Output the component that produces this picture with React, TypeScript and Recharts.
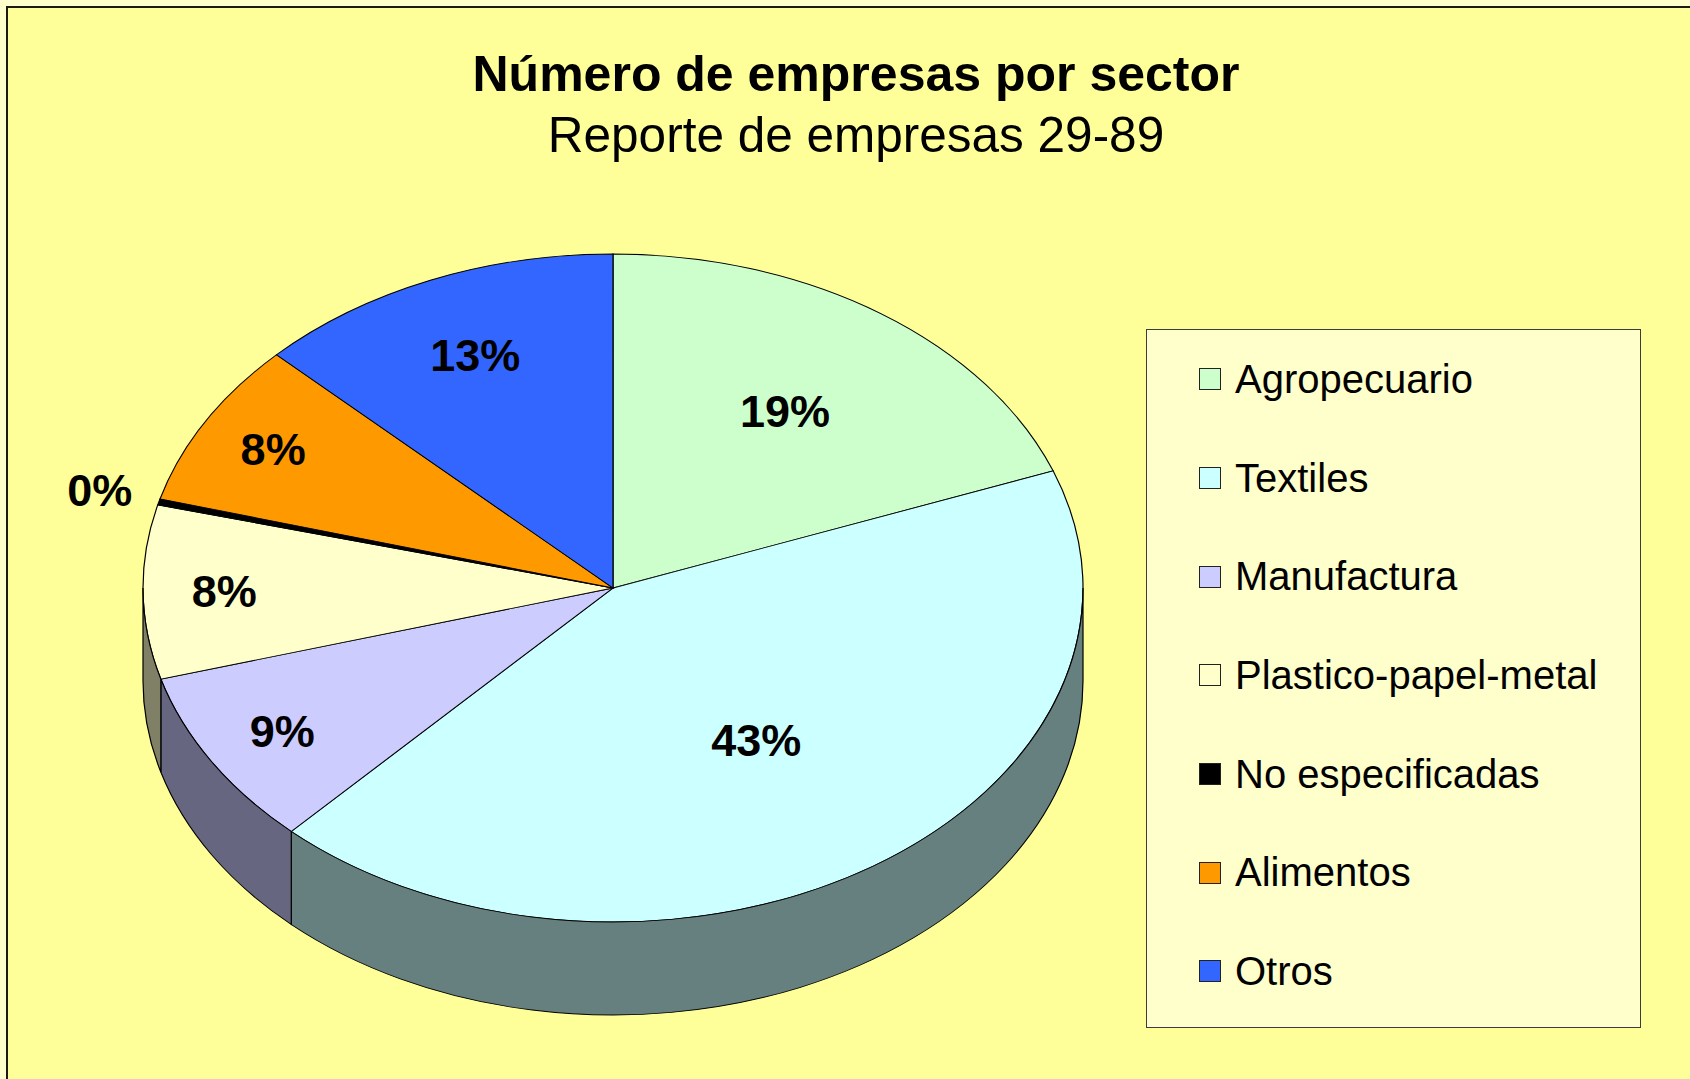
import React from "react";
import { PieChart, Pie, Cell, Legend } from "recharts";

// sector shares (percent of companies)
const sectors = [
  "Agropecuario",
  "Textiles",
  "Manufactura",
  "Plastico-papel-metal",
  "No especificadas",
  "Alimentos",
  "Otros",
];
const shares = [19.3, 42.7, 8.6, 8.4, 0.3, 8.0, 12.7];
const topColors = ["#CCFFCC", "#CCFFFF", "#CCCCFF", "#FFFFCC", "#000000", "#FF9900", "#3366FF"];
const sideColors = ["#668066", "#668080", "#666680", "#808066", "#000000", "#804D00", "#1A3380"];

const data = sectors.map((name, i) => ({ name, value: shares[i] }));

const FONT = "'Liberation Sans', Arial, sans-serif";
const TILT = 334 / 470; // vertical squash of the 3d disc
const DEPTH = 93 / TILT; // side height, in unsquashed units
const CY = 580;
const RAD = Math.PI / 180;

const pt = (cx: number, cy: number, r: number, a: number) => [
  cx + r * Math.cos(-a * RAD),
  cy + r * Math.sin(-a * RAD),
];

// visible rim of a slice (front half only), extruded down
function sidePath(cx: number, cy: number, r: number, start: number, end: number) {
  const a1 = Math.min(start, 0);
  const a2 = Math.max(end, -180);
  if (a1 <= a2) return null;
  const [x1, y1] = pt(cx, cy, r, a1);
  const [x2, y2] = pt(cx, cy, r, a2);
  return `M${x1},${y1} A${r},${r} 0 0 1 ${x2},${y2} L${x2},${y2 + DEPTH} A${r},${r} 0 0 0 ${x1},${y1 + DEPTH} Z`;
}

const renderSlice = (props: any) => {
  const { cx, cy, outerRadius, startAngle, endAngle, midAngle, percent, index } = props;
  const side = sidePath(cx, cy, outerRadius, startAngle, endAngle);
  // small slices get their label further out, tiny ones outside the disc
  const f = percent < 0.01 ? 1.13 : Math.max(0.55, 0.97 - 1.7 * percent);
  const [x, y] = pt(cx, cy, outerRadius * f, midAngle);
  return (
    <g key={`slice-${index}`}>
      {side && <path d={side} fill={sideColors[index]} stroke="#000" strokeWidth={1.2} />}
      <text
        x={0}
        y={0}
        transform={`translate(${x},${y}) scale(1,${1 / TILT})`}
        textAnchor="middle"
        dominantBaseline="central"
        fontFamily={FONT}
        fontSize={45}
        fontWeight="bold"
        fill="#000"
      >
        {Math.round(percent * 100)}%
      </text>
    </g>
  );
};

const renderLegend = (props: any) => {
  const items = [...(props.payload || [])].sort(
    (a: any, b: any) => sectors.indexOf(a.value) - sectors.indexOf(b.value)
  );
  return (
    <div
      style={{
        width: 495,
        height: 699,
        boxSizing: "border-box",
        border: "1.5px solid #3c3c3c",
        background: "#FFFFCC",
      }}
    >
      {items.map((entry: any) => {
        const i = sectors.indexOf(entry.value);
        return (
          <div key={entry.value} style={{ height: 98.7, display: "flex", alignItems: "center" }}>
            <span
              style={{
                display: "inline-block",
                width: 22,
                height: 22,
                boxSizing: "border-box",
                marginLeft: 52,
                border: "1.5px solid #222",
                background: topColors[i],
              }}
            />
            <span style={{ marginLeft: 14, fontSize: 40, fontFamily: FONT, color: "#000" }}>
              {entry.value}
            </span>
          </div>
        );
      })}
    </div>
  );
};

export default function App() {
  return (
    <div>
      <style>{`
        html, body { margin: 0; overflow: hidden; background: #FFFFCC; }
        .pie3d svg.recharts-surface { transform: scaleY(${TILT}); transform-origin: 0 ${CY}px; overflow: visible; }
      `}</style>
      <div
        className="pie3d"
        style={{
          position: "relative",
          marginLeft: 6,
          marginTop: 6,
          width: 1700,
          height: 1090,
          border: "2px solid #1a1a1a",
          background: "#FFFF99",
          overflow: "hidden",
        }}
      >
        <div
          style={{
            position: "absolute",
            left: 348,
            width: 1000,
            top: 41,
            textAlign: "center",
            fontFamily: FONT,
            fontSize: 50,
            lineHeight: "50px",
            fontWeight: "bold",
            color: "#000",
            zIndex: 2,
          }}
        >
          Número de empresas por sector
        </div>
        <div
          style={{
            position: "absolute",
            left: 348,
            width: 1000,
            top: 102,
            textAlign: "center",
            fontFamily: FONT,
            fontSize: 49.5,
            lineHeight: "50px",
            color: "#000",
            zIndex: 2,
          }}
        >
          Reporte de empresas 29-89
        </div>
        <PieChart width={1690} height={1210} margin={{ top: 0, right: 0, bottom: 0, left: 0 }}>
          <Pie
            data={data}
            dataKey="value"
            nameKey="name"
            cx={605}
            cy={CY}
            outerRadius={470}
            startAngle={90}
            endAngle={-270}
            stroke="#000"
            strokeWidth={1.2}
            label={renderSlice}
            labelLine={false}
            isAnimationActive={false}
          >
            {data.map((d, i) => (
              <Cell key={d.name} fill={topColors[i]} />
            ))}
          </Pie>
          <Legend
            layout="vertical"
            align="right"
            verticalAlign="top"
            content={renderLegend}
            wrapperStyle={{ left: 1138, top: 321, width: 495, height: 699 }}
          />
        </PieChart>
      </div>
    </div>
  );
}
